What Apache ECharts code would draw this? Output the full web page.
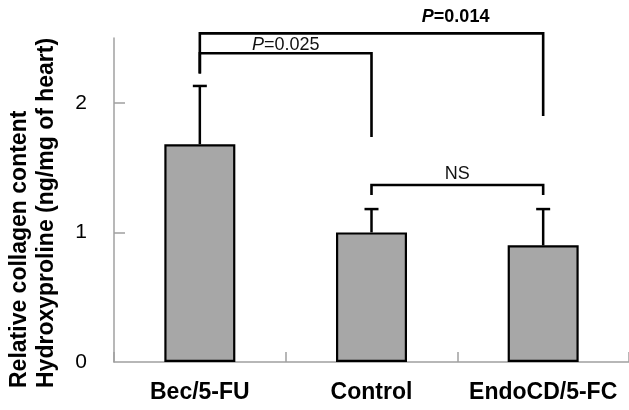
<!DOCTYPE html>
<html>
<head>
<meta charset="utf-8">
<script src="https://cdn.jsdelivr.net/npm/echarts@6/dist/echarts.min.js"></script>
<style>
  html, body { margin: 0; padding: 0; background: #fff; }
  #chart { width: 629px; height: 410px; }
</style>
</head>
<body>
<div id="chart"></div>
<script>
// Hydroxyproline content per treatment group (mean and upper SD bound)
const categories = ['Bec/5-FU', 'Control', 'EndoCD/5-FC'];
const means = [1.68, 1.00, 0.90];
const upperBounds = [2.13, 1.18, 1.18];
const yTickValues = [0, 1, 2];

// Significance brackets: category span, bracket level, drop ends, label
const brackets = [
  { from: 0, to: 1, level: 2.382, dropFrom: 2.227, dropTo: 1.736, labelAt: 0.5, labelY: 2.445,
    text: '{i|P}{r|=0.025}' },
  { from: 0, to: 2, level: 2.536, dropFrom: 2.227, dropTo: 1.898, labelAt: 1.49, labelY: 2.66,
    text: '{bi|P}{b|=0.014}' },
  { from: 1, to: 2, level: 1.366, dropFrom: 1.289, dropTo: 1.289, labelAt: 1.5, labelY: 1.45,
    text: '{r|NS}' }
];

const FONT = '"Liberation Sans", Arial, sans-serif';
const chart = echarts.init(document.getElementById('chart'), null, { renderer: 'canvas' });

const barData = means.map((v, i) => v);
const errData = means.map((v, i) => [i, v, upperBounds[i]]);
const bracketData = brackets.map((b, i) => [b.from, b.level, i]);

function lerpX(api, a, y) {
  const i0 = Math.floor(a), t = a - i0;
  const p0 = api.coord([i0, y]);
  if (t === 0) return p0[0];
  const p1 = api.coord([i0 + 1, y]);
  return p0[0] + (p1[0] - p0[0]) * t;
}

chart.setOption({
  animation: false,
  backgroundColor: '#ffffff',
  grid: { left: 114, top: 38, width: 520.5, height: 324 },
  xAxis: {
    type: 'category',
    data: categories,
    boundaryGap: true,
    axisLine: { show: true, lineStyle: { color: '#a0a0a0', width: 1.5 } },
    axisTick: { show: true, inside: true, length: 10, interval: 0, lineStyle: { color: '#a0a0a0', width: 1.5 } },
    axisLabel: {
      interval: 0, margin: 19, color: '#000',
      fontFamily: FONT, fontWeight: 'bold', fontSize: 23
    }
  },
  yAxis: {
    type: 'value',
    min: 0, max: 2.5, interval: 1,
    splitLine: { show: false },
    axisLine: { show: true, lineStyle: { color: '#a0a0a0', width: 1.5 } },
    axisTick: { show: true, inside: true, length: 11, customValues: [1, 2], lineStyle: { color: '#a0a0a0', width: 1.5 } },
    axisLabel: {
      customValues: yTickValues, margin: 27, color: '#000',
      fontFamily: FONT, fontSize: 21
    }
  },
  graphic: [
    { type: 'text', x: 20, y: 388, rotation: Math.PI / 2,
      style: { text: 'Relative collagen content', fill: '#000',
        font: 'bold 23px ' + FONT, align: 'left', verticalAlign: 'middle' } },
    { type: 'text', x: 47, y: 388, rotation: Math.PI / 2,
      style: { text: 'Hydroxyproline (ng/mg of heart)', fill: '#000',
        font: 'bold 23px ' + FONT, align: 'left', verticalAlign: 'middle' } }
  ],
  series: [
    {
      type: 'bar',
      data: barData,
      barWidth: 71,
      itemStyle: { color: '#a7a7a7', borderColor: '#000', borderWidth: 2.2 },
      z: 2
    },
    {
      type: 'custom',
      data: errData,
      encode: { x: 0, y: [1, 2] },
      z: 3,
      renderItem: function (params, api) {
        const i = api.value(0);
        const pMean = api.coord([i, api.value(1)]);
        const pHi = api.coord([i, api.value(2)]);
        const style = { stroke: '#000', lineWidth: 2.5 };
        return {
          type: 'group',
          children: [
            { type: 'line', shape: { x1: pMean[0], y1: pMean[1], x2: pHi[0], y2: pHi[1] }, style: style },
            { type: 'line', shape: { x1: pHi[0] - 7, y1: pHi[1], x2: pHi[0] + 7, y2: pHi[1] }, style: style }
          ]
        };
      }
    },
    {
      type: 'custom',
      data: bracketData,
      encode: { x: 0, y: 1 },
      clip: false,
      z: 4,
      renderItem: function (params, api) {
        const b = brackets[api.value(2)];
        const a = api.coord([b.from, b.dropFrom]);
        const top = api.coord([b.from, b.level]);
        const c = api.coord([b.to, b.dropTo]);
        const lx = lerpX(api, b.labelAt, b.labelY);
        const ly = api.coord([b.from, b.labelY])[1];
        return {
          type: 'group',
          children: [
            { type: 'polyline',
              shape: { points: [[a[0], a[1]], [a[0], top[1]], [c[0], top[1]], [c[0], c[1]]] },
              style: { stroke: '#000', lineWidth: 2.6, fill: null } },
            { type: 'text', x: lx, y: ly,
              style: {
                text: b.text, align: 'center', verticalAlign: 'middle',
                rich: {
                  r: { fontFamily: FONT, fontSize: 18, fill: '#111' },
                  i: { fontFamily: FONT, fontSize: 18, fontStyle: 'italic', fill: '#111' },
                  b: { fontFamily: FONT, fontSize: 18, fontWeight: 'bold', fill: '#000' },
                  bi: { fontFamily: FONT, fontSize: 18, fontWeight: 'bold', fontStyle: 'italic', fill: '#000' }
                }
              } }
          ]
        };
      }
    }
  ]
});
</script>
</body>
</html>
